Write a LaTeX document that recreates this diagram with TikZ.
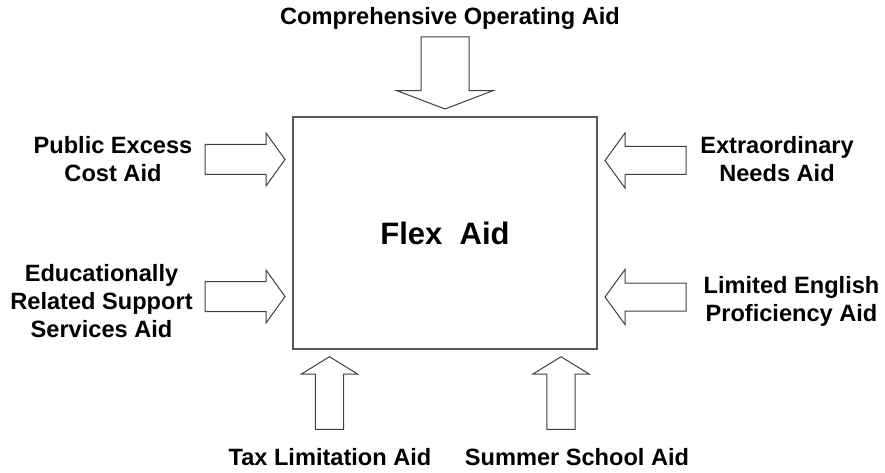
\documentclass[tikz,border=0pt]{standalone}
\usepackage{fontspec}
\setmainfont{Liberation Sans}
\begin{document}
\begin{tikzpicture}[x=1pt,y=-1pt,
  lbl/.style={font=\fontsize{23.6}{28}\selectfont\bfseries, align=center, inner sep=0pt},
  barrow/.style={draw=black!75, line width=1pt, fill=white, line join=miter}]
\useasboundingbox (0,0) rectangle (885,473);
\node[draw=black!65, line width=1.3pt, minimum width=304pt, minimum height=232pt, inner sep=0pt,
      font=\fontsize{31}{36}\selectfont\bfseries] (flex) at (445,233) {Flex\ \ Aid};
% labels
\node[lbl, anchor=base] (comp) at (450,25) {Comprehensive Operating Aid};
\node[lbl] (pub) at (113,159) {Public Excess\\Cost Aid};
\node[lbl] (ext) at (777,159) {Extraordinary\\Needs Aid};
\node[lbl] (edu) at (101.5,301.5) {Educationally\\Related Support\\Services Aid};
\node[lbl] (lep) at (791.5,301) {Limited English\\Proficiency Aid};
\node[lbl, anchor=base] (tax) at (330,465) {Tax Limitation Aid};
\node[lbl, anchor=base] (sum) at (577,465) {Summer School Aid};
% top arrow
\draw[barrow] (421,37) -- (469,37) -- (469,90.7) -- (493,90.7) -- (445,109) -- (397,90.7) -- (421,90.7) -- cycle;
% left arrows
\foreach \c in {159.5,296.5}{
  \draw[barrow] (205,\c-15) -- (266,\c-15) -- (266,\c-26.5) -- (285,\c) -- (266,\c+26.5) -- (266,\c+15) -- (205,\c+15) -- cycle;
}
% right arrows
\foreach \c in {160.5,297}{
  \draw[barrow] (686,\c-14) -- (625,\c-14) -- (625,\c-27.5) -- (605,\c) -- (625,\c+27.5) -- (625,\c+14) -- (686,\c+14) -- cycle;
}
% bottom arrows
\foreach \c in {329.5,561}{
  \draw[barrow] (\c-14.2,429.3) -- (\c-14.2,374) -- (\c-28,374) -- (\c,356.7) -- (\c+28,374) -- (\c+14.2,374) -- (\c+14.2,429.3) -- cycle;
}
\end{tikzpicture}
\end{document}
